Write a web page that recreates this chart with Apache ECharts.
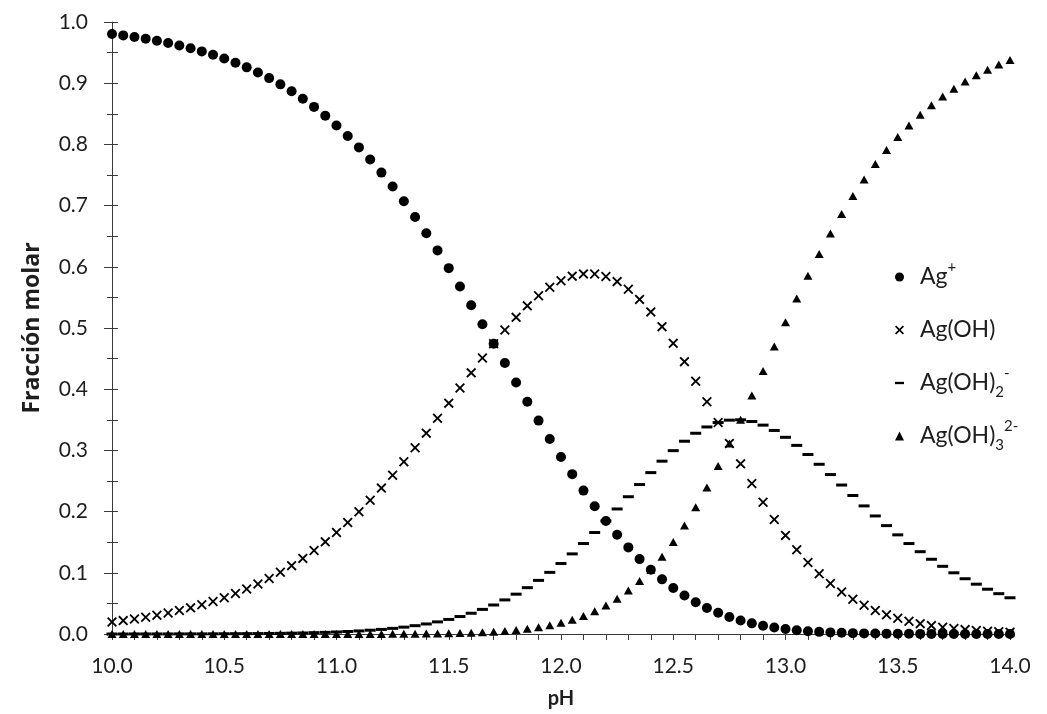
<!DOCTYPE html>
<html>
<head>
<meta charset="utf-8">
<title>Fracción molar vs pH</title>
<script src="https://cdn.jsdelivr.net/npm/echarts@6/dist/echarts.min.js"></script>
<style>
  html, body { margin: 0; padding: 0; background: #fff; }
  #chart { width: 1047px; height: 714px; }
</style>
</head>
<body>
<div id="chart"></div>
<script>
// pH values (x)
var pH = [
  10.00, 10.05, 10.10, 10.15, 10.20, 10.25, 10.30, 10.35, 10.40, 10.45,
  10.50, 10.55, 10.60, 10.65, 10.70, 10.75, 10.80, 10.85, 10.90, 10.95,
  11.00, 11.05, 11.10, 11.15, 11.20, 11.25, 11.30, 11.35, 11.40, 11.45,
  11.50, 11.55, 11.60, 11.65, 11.70, 11.75, 11.80, 11.85, 11.90, 11.95,
  12.00, 12.05, 12.10, 12.15, 12.20, 12.25, 12.30, 12.35, 12.40, 12.45,
  12.50, 12.55, 12.60, 12.65, 12.70, 12.75, 12.80, 12.85, 12.90, 12.95,
  13.00, 13.05, 13.10, 13.15, 13.20, 13.25, 13.30, 13.35, 13.40, 13.45,
  13.50, 13.55, 13.60, 13.65, 13.70, 13.75, 13.80, 13.85, 13.90, 13.95,
  14.00
];

// Ag+
var agPlus = [
  0.9804, 0.9781, 0.9754, 0.9725, 0.9693, 0.9656, 0.9616, 0.9571, 0.9520, 0.9465,
  0.9403, 0.9334, 0.9259, 0.9175, 0.9083, 0.8981, 0.8869, 0.8747, 0.8613, 0.8467,
  0.8309, 0.8137, 0.7951, 0.7752, 0.7539, 0.7311, 0.7070, 0.6815, 0.6547, 0.6268,
  0.5978, 0.5679, 0.5372, 0.5060, 0.4744, 0.4427, 0.4110, 0.3796, 0.3487, 0.3186,
  0.2893, 0.2612, 0.2343, 0.2087, 0.1847, 0.1623, 0.1415, 0.1224, 0.1050, 0.0893,
  0.0753, 0.0629, 0.0520, 0.0426, 0.0346, 0.0278, 0.0221, 0.0174, 0.0136, 0.0105,
  0.0081, 0.0061, 0.0046, 0.0035, 0.0026, 0.0019, 0.0014, 0.0010, 0.0008, 0.0006,
  0.0004, 0.0003, 0.0002, 0.0002, 0.0001, 0.0001, 0.0001, 0.0000, 0.0000, 0.0000,
  0.0000
];

// Ag(OH)
var agOH = [
  0.0196, 0.0219, 0.0245, 0.0274, 0.0307, 0.0343, 0.0383, 0.0427, 0.0477, 0.0532,
  0.0593, 0.0661, 0.0735, 0.0818, 0.0908, 0.1008, 0.1117, 0.1235, 0.1365, 0.1506,
  0.1658, 0.1822, 0.1997, 0.2185, 0.2384, 0.2594, 0.2815, 0.3044, 0.3282, 0.3525,
  0.3772, 0.4020, 0.4267, 0.4510, 0.4744, 0.4967, 0.5174, 0.5362, 0.5527, 0.5665,
  0.5773, 0.5847, 0.5884, 0.5883, 0.5842, 0.5758, 0.5633, 0.5467, 0.5263, 0.5022,
  0.4749, 0.4450, 0.4130, 0.3796, 0.3455, 0.3114, 0.2780, 0.2458, 0.2154, 0.1870,
  0.1611, 0.1377, 0.1168, 0.0984, 0.0824, 0.0686, 0.0568, 0.0469, 0.0385, 0.0315,
  0.0257, 0.0209, 0.0169, 0.0137, 0.0111, 0.0089, 0.0072, 0.0058, 0.0046, 0.0037,
  0.0030
];

// Ag(OH)2-
var agOH2 = [
  0.0000, 0.0000, 0.0001, 0.0001, 0.0001, 0.0001, 0.0002, 0.0002, 0.0002, 0.0003,
  0.0004, 0.0005, 0.0006, 0.0007, 0.0009, 0.0011, 0.0014, 0.0017, 0.0022, 0.0027,
  0.0033, 0.0041, 0.0050, 0.0062, 0.0075, 0.0092, 0.0112, 0.0136, 0.0164, 0.0198,
  0.0238, 0.0285, 0.0339, 0.0402, 0.0474, 0.0557, 0.0651, 0.0757, 0.0876, 0.1007,
  0.1152, 0.1309, 0.1478, 0.1658, 0.1847, 0.2043, 0.2243, 0.2442, 0.2637, 0.2824,
  0.2996, 0.3150, 0.3280, 0.3383, 0.3455, 0.3494, 0.3500, 0.3472, 0.3413, 0.3326,
  0.3214, 0.3082, 0.2933, 0.2773, 0.2605, 0.2434, 0.2263, 0.2093, 0.1929, 0.1771,
  0.1620, 0.1478, 0.1345, 0.1221, 0.1106, 0.1000, 0.0903, 0.0814, 0.0732, 0.0659,
  0.0592
];

// Ag(OH)3 2-
var agOH3 = [
  0.0000, 0.0000, 0.0000, 0.0000, 0.0000, 0.0000, 0.0000, 0.0000, 0.0000, 0.0000,
  0.0000, 0.0000, 0.0000, 0.0000, 0.0000, 0.0000, 0.0000, 0.0000, 0.0000, 0.0000,
  0.0001, 0.0001, 0.0001, 0.0001, 0.0002, 0.0003, 0.0004, 0.0005, 0.0007, 0.0009,
  0.0012, 0.0016, 0.0021, 0.0028, 0.0038, 0.0050, 0.0065, 0.0085, 0.0110, 0.0142,
  0.0183, 0.0233, 0.0295, 0.0371, 0.0464, 0.0576, 0.0709, 0.0867, 0.1050, 0.1261,
  0.1502, 0.1771, 0.2070, 0.2395, 0.2744, 0.3114, 0.3500, 0.3896, 0.4297, 0.4698,
  0.5094, 0.5480, 0.5853, 0.6208, 0.6545, 0.6861, 0.7155, 0.7427, 0.7679, 0.7909,
  0.8119, 0.8310, 0.8484, 0.8641, 0.8783, 0.8910, 0.9026, 0.9129, 0.9221, 0.9304,
  0.9379
];

var seriesNames = ["Ag+", "Ag(OH)", "Ag(OH)2-", "Ag(OH)3 2-"];
var legendLabels = {
  "Ag+": "Ag{sup|+}",
  "Ag(OH)": "Ag(OH)",
  "Ag(OH)2-": "Ag(OH){sub|2}{sup|-}",
  "Ag(OH)3 2-": "Ag(OH){sub|3}{sup|2-}"
};

var crossPath = "path://M0,1.3L1.3,0L5,3.7L8.7,0L10,1.3L6.3,5L10,8.7L8.7,10L5,6.3L1.3,10L0,8.7L3.7,5Z";
var dashPath = "path://M0,0L10,0L10,2.6L0,2.6Z";

function pairs(ys) {
  return ys.map(function (v, i) { return [pH[i], v]; });
}

var axisColor = "#3a3a3a";
var textColor = "#1e1e1e";
var labelFont = "Lato, 'Open Sans', sans-serif";
var markStyle = { color: "#000", opacity: 1 };

var myChart = echarts.init(document.getElementById("chart"), null, { renderer: "canvas" });

var option = {
  backgroundColor: "#fff",
  animation: false,
  grid: {
    left: 112,
    right: 37,
    top: 22,
    bottom: 78
  },
  legend: {
    orient: "vertical",
    left: 890,
    top: 255,
    itemWidth: 9,
    itemHeight: 9,
    itemGap: 19,
    itemStyle: { color: "#000", opacity: 1 },
    data: [
      { name: seriesNames[0], icon: "circle" },
      { name: seriesNames[1], icon: crossPath },
      { name: seriesNames[2], icon: dashPath },
      { name: seriesNames[3], icon: "triangle" }
    ],
    formatter: function (name) {
      return legendLabels[name];
    },
    textStyle: {
      color: textColor,
      fontFamily: labelFont,
      fontSize: 23,
      lineHeight: 34,
      padding: [0, 0, 0, 11],
      rich: {
        sup: { fontSize: 15, fontFamily: labelFont, color: textColor, verticalAlign: "top" },
        sub: { fontSize: 15, fontFamily: labelFont, color: textColor, verticalAlign: "bottom" }
      }
    }
  },
  xAxis: {
    type: "value",
    min: 10,
    max: 14,
    interval: 0.5,
    name: "pH",
    nameLocation: "middle",
    nameGap: 55,
    nameTextStyle: {
      color: textColor,
      fontFamily: labelFont,
      fontWeight: "bold",
      fontSize: 20
    },
    axisLine: { show: true, onZero: false, lineStyle: { color: axisColor, width: 1 } },
    axisTick: { show: true, length: 6, lineStyle: { color: axisColor } },
    minorTick: { show: true, splitNumber: 5, length: 6, lineStyle: { color: axisColor } },
    splitLine: { show: false },
    axisLabel: {
      color: textColor,
      fontFamily: labelFont,
      fontSize: 21,
      margin: 22,
      formatter: function (v) { return v.toFixed(1); }
    }
  },
  yAxis: [
    {
      type: "value",
      min: 0,
      max: 1,
      interval: 0.1,
      name: "Fracción molar",
      nameLocation: "middle",
      nameGap: 68,
      nameTextStyle: {
        color: textColor,
        fontFamily: "'Open Sans', Lato, sans-serif",
        fontWeight: "bold",
        fontSize: 23
      },
      axisLine: { show: true, lineStyle: { color: axisColor, width: 1 } },
      axisTick: { show: true, length: 8, lineStyle: { color: axisColor } },
      minorTick: { show: true, splitNumber: 2, length: 5, lineStyle: { color: axisColor } },
      splitLine: { show: false },
      axisLabel: {
        color: textColor,
        fontFamily: labelFont,
        fontSize: 21,
        margin: 24,
        formatter: function (v) { return v.toFixed(1); }
      }
    },
    {
      // same scale, only draws the inner half of the ticks so they cross the axis
      type: "value",
      min: 0,
      max: 1,
      interval: 0.1,
      position: "left",
      axisLine: { show: false },
      axisTick: { show: true, inside: true, length: 6, lineStyle: { color: axisColor } },
      minorTick: { show: true, splitNumber: 2, length: 6, lineStyle: { color: axisColor } },
      splitLine: { show: false },
      axisLabel: { show: false }
    }
  ],
  series: [
    {
      name: seriesNames[0],
      type: "scatter",
      symbol: "circle",
      symbolSize: 10,
      itemStyle: markStyle,
      data: pairs(agPlus),
      z: 2
    },
    {
      name: seriesNames[1],
      type: "scatter",
      symbol: crossPath,
      symbolSize: 10,
      itemStyle: markStyle,
      data: pairs(agOH),
      z: 3
    },
    {
      name: seriesNames[2],
      type: "scatter",
      symbol: dashPath,
      symbolSize: [11, 3],
      itemStyle: markStyle,
      data: pairs(agOH2),
      z: 4
    },
    {
      name: seriesNames[3],
      type: "scatter",
      symbol: "triangle",
      symbolSize: [9, 8],
      itemStyle: markStyle,
      data: pairs(agOH3),
      z: 5
    }
  ]
};

myChart.setOption(option);
</script>
</body>
</html>
